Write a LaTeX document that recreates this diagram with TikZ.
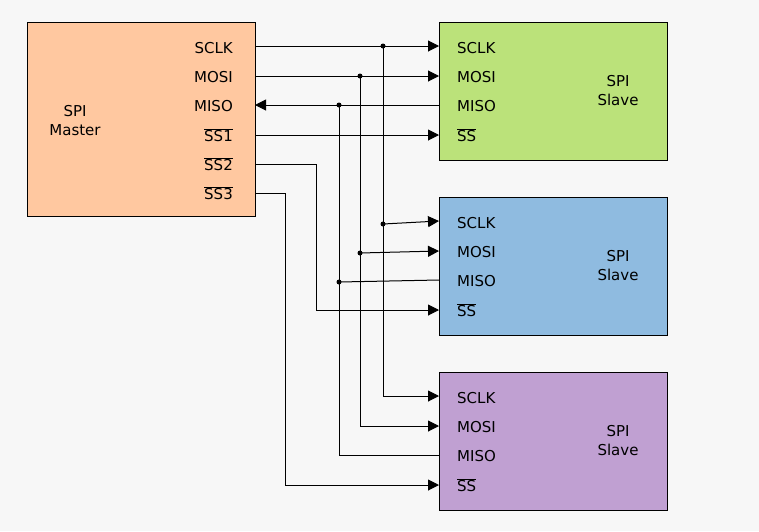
\documentclass[tikz,border=0pt]{standalone}
\usepackage{fontspec}
\setmainfont{DejaVu Sans}
\usetikzlibrary{arrows.meta}
\newcommand{\nss}[1]{$\overline{\mbox{SS#1}}$}
\tikzset{
  pin/.style={inner sep=0pt, font=\fontsize{15}{17}\selectfont},
  wire/.style={line width=1pt},
  sig/.style={wire, -{Triangle[length=11pt,width=11pt]}},
  dot/.style={circle, fill, inner sep=0pt, minimum size=5pt}
}
\begin{document}
\begin{tikzpicture}[x=1pt,y=-1pt]
\fill[black!3] (0,0) rectangle (759,531);
\useasboundingbox (0,0) rectangle (759,531);

% boxes
\draw[fill={rgb,255:red,255;green,200;blue,160}] (27,22) rectangle (255,216);
\draw[fill={rgb,255:red,187;green,226;blue,122}] (439,22) rectangle (667,160);
\draw[fill={rgb,255:red,143;green,187;blue,224}] (439,197) rectangle (667,335);
\draw[fill={rgb,255:red,192;green,160;blue,210}] (439,372) rectangle (667,510);

% master
\node[pin, align=center] (mname) at (75,121) {SPI\\[2pt]Master};
\node[pin, anchor=east] (msclk) at (233,48) {SCLK};
\node[pin, anchor=east] (mmosi) at (233,77) {MOSI};
\node[pin, anchor=east] (mmiso) at (233,106) {MISO};
\node[pin, anchor=east] (mss1) at (233,135) {\nss1};
\node[pin, anchor=east] (mss2) at (233,164) {\nss2};
\node[pin, anchor=east] (mss3) at (233,193) {\nss3};
\coordinate (msclkp) at (255,46);
\coordinate (mmosip) at (255,76);
\coordinate (mmisop) at (255,105);
\coordinate (mss1p) at (255,135);
\coordinate (mss2p) at (255,164);
\coordinate (mss3p) at (255,193);

% slaves
\foreach \n/\t in {1/22, 2/197, 3/372} {
  \node[pin, align=center] (sname\n) at (618,\t+69) {SPI\\[2pt]Slave};
  \node[pin, anchor=west] (ssclk\n) at (457,\t+26) {SCLK};
  \node[pin, anchor=west] (smosi\n) at (457,\t+55) {MOSI};
  \node[pin, anchor=west] (smiso\n) at (457,\t+84) {MISO};
  \node[pin, anchor=west] (sss\n) at (457,\t+113) {\nss{}};
  \coordinate (ssclkp\n) at (439,\t+24);
  \coordinate (smosip\n) at (439,\t+54);
  \coordinate (smisop\n) at (439,\t+83);
  \coordinate (sssp\n) at (439,\t+113);
}

% SCLK bus
\draw[sig] (msclkp) -- (ssclkp1);
\draw[sig] (383,46) |- (ssclkp3);
\draw[sig] (383,224) -- (ssclkp2);
\node[dot] (d1) at (383,46) {};
\node[dot] (d2) at (383,224) {};
% MOSI bus
\draw[sig] (mmosip) -- (smosip1);
\draw[sig] (360,76) |- (smosip3);
\draw[sig] (360,253) -- (smosip2);
\node[dot] (d3) at (360,76) {};
\node[dot] (d4) at (360,253) {};
% MISO bus
\draw[sig] (smisop1) -- (mmisop);
\draw[wire] (smisop3) -| (339,105);
\draw[wire] (smisop2) -- (339,282);
\node[dot] (d5) at (339,105) {};
\node[dot] (d6) at (339,282) {};
% slave selects
\draw[sig] (mss1p) -- (sssp1);
\draw[sig] (mss2p) -- (316,164) |- (sssp2);
\draw[sig] (mss3p) -- (285,193) |- (sssp3);
\end{tikzpicture}
\end{document}
